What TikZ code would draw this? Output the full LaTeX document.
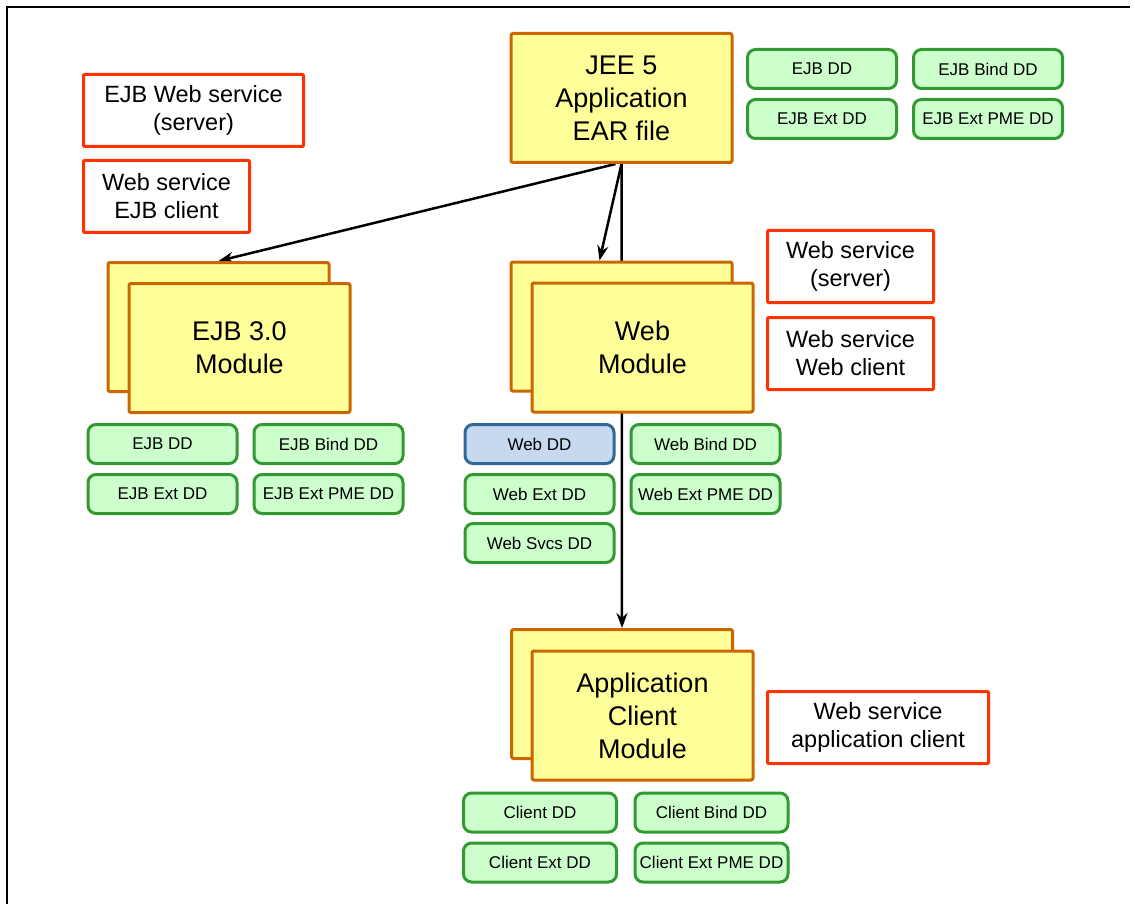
\documentclass[tikz,border=0pt]{standalone}
\usepackage{fontspec}
\setmainfont{Liberation Sans}
\usetikzlibrary{arrows.meta,backgrounds}
\definecolor{modFill}{HTML}{FFFF99}
\definecolor{modDraw}{HTML}{CC6600}
\definecolor{ddFill}{HTML}{CCFFCC}
\definecolor{ddDraw}{HTML}{339933}
\definecolor{webFill}{HTML}{C6D9EE}
\definecolor{webDraw}{HTML}{336699}
\definecolor{wsDraw}{HTML}{FF3300}
\tikzset{
  box/.style  ={draw, align=center, inner sep=2pt, line width=3pt},
  mod/.style  ={box, fill=modFill, draw=modDraw, rounded corners=2pt, minimum width=221pt, minimum height=129pt, font=\fontsize{27}{33}\selectfont},
  dd/.style   ={box, fill=ddFill, draw=ddDraw, rounded corners=8pt, minimum width=149pt, minimum height=39pt, font=\fontsize{17}{20}\selectfont},
  webdd/.style={dd, fill=webFill, draw=webDraw},
  ws/.style   ={box, fill=white, draw=wsDraw, rounded corners=1pt, minimum height=72pt, font=\fontsize{23.5}{28}\selectfont},
  arr/.style  ={-{Stealth[length=15pt,width=11pt]}, line width=2.5pt},
}

\begin{document}
\begin{tikzpicture}[x=1pt, y=-1pt]
  \useasboundingbox (0,0) rectangle (1135,904);
  \draw[line width=1.2pt] (7,904) -- (7,7) -- (1130,7);

  % ear file and its descriptors
  \node[mod] (jee) at (621.5,98) {JEE 5\\Application\\EAR file};
  \node[dd] (earDD)   at (822,69)  {EJB DD};
  \node[dd] (earBind) at (988,69)  {EJB Bind DD};
  \node[dd] (earExt)  at (822,119) {EJB Ext DD};
  \node[dd] (earPME)  at (988,119) {EJB Ext PME DD};

  % ejb module
  \node[ws, minimum width=220pt] (ejbServer) at (193.5,110.5) {EJB Web service\\(server)};
  \node[ws, minimum width=166pt] (ejbClient) at (166.5,196.5) {Web service\\EJB client};
  \node[mod] (ejbBack)  at (218.5,327) {};
  \node[mod] (ejbFront) at (239.5,348) {EJB 3.0\\Module};
  \node[dd] (ejbDD)   at (162.5,444) {EJB DD};
  \node[dd] (ejbBind) at (328.5,444) {EJB Bind DD};
  \node[dd] (ejbExt)  at (162.5,494) {EJB Ext DD};
  \node[dd] (ejbPME)  at (328.5,494) {EJB Ext PME DD};

  % web module
  \node[mod] (webBack)  at (621.5,326.5) {};
  \node[mod] (webFront) at (642.5,347.5) {Web\\Module};
  \node[ws, minimum width=166pt] (webServer) at (850.5,266.5) {Web service\\(server)};
  \node[ws, minimum width=166pt] (webClient) at (850.5,353.5) {Web service\\Web client};
  \node[webdd] (webDD)   at (539.5,444) {Web DD};
  \node[dd]    (webBind) at (705.5,444) {Web Bind DD};
  \node[dd]    (webExt)  at (539.5,494) {Web Ext DD};
  \node[dd]    (webPME)  at (705.5,494) {Web Ext PME DD};
  \node[dd]    (webSvcs) at (539.5,543) {Web Svcs DD};

  % application client module
  \node[mod] (appBack)  at (622,694) {};
  \node[mod] (appFront) at (642.5,715.5) {Application\\Client\\Module};
  \node[ws, minimum width=221pt] (appClient) at (878,727.5) {Web service\\application client};
  \node[dd, minimum width=153pt] (appDD)   at (540,812.5)   {Client DD};
  \node[dd, minimum width=153pt] (appBind) at (711.5,812.5) {Client Bind DD};
  \node[dd, minimum width=153pt] (appExt)  at (540,862.5)   {Client Ext DD};
  \node[dd, minimum width=153pt] (appPME)  at (711.5,862.5) {Client Ext PME DD};

  \begin{scope}[on background layer]
    \draw[arr] ([xshift=-6pt]jee.south) -- (ejbBack.north);
    \draw[arr] (jee.south) -- ([xshift=-22pt]webBack.north);
    \draw[arr] (jee.south) -- (appBack.north);
  \end{scope}
\end{tikzpicture}
\end{document}
